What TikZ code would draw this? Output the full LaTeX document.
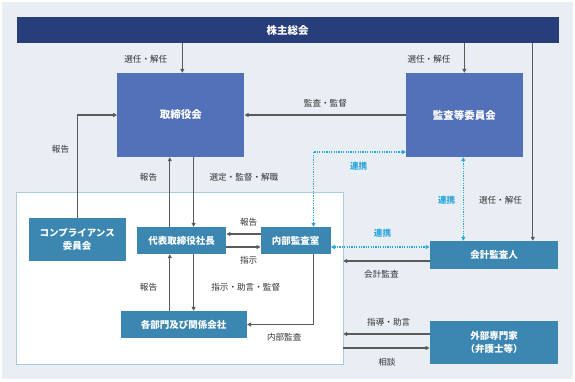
\documentclass[tikz,border=0pt]{standalone}
\usepackage{fontspec}
\setmainfont{Noto Sans CJK JP}
\usetikzlibrary{arrows.meta}
\definecolor{bgc}{HTML}{E8EEF3}
\definecolor{navy}{HTML}{283E7B}
\definecolor{boardc}{HTML}{5271B8}
\definecolor{steel}{HTML}{3B87B1}
\definecolor{linec}{HTML}{5A5A5A}
\definecolor{linkc}{HTML}{2BA6DE}
\definecolor{wborder}{HTML}{A9CBDD}
\definecolor{txtc}{HTML}{333333}
\begin{document}
\begin{tikzpicture}[x=1pt,y=-1pt,
  boxbase/.style={text=white, font=\bfseries\fontsize{9.5}{12.5}\selectfont, align=center, inner sep=0pt},
  navybox/.style={boxbase, fill=navy, font=\bfseries\fontsize{10.5}{13}\selectfont},
  boardbox/.style={boxbase, fill=boardc, font=\bfseries\fontsize{10.5}{13}\selectfont},
  steelbox/.style={boxbase, fill=steel},
  conn/.style={draw=linec, line width=1.2pt, -{Triangle[length=4pt,width=4pt]}},
  linkconn/.style={draw=linkc, line width=1.2pt, dash pattern=on 1.2pt off 1.2pt, {Triangle[length=4pt,width=4pt]}-{Triangle[length=4pt,width=4pt]}},
  lbl/.style={text=txtc, font=\fontsize{8.6}{10}\selectfont, inner sep=0pt},
  linklbl/.style={text=linkc, font=\bfseries\fontsize{8.6}{10}\selectfont, inner sep=0pt}
]
\useasboundingbox (0,0) rectangle (575,381);
\fill[white] (0,0) rectangle (575,381);
\fill[bgc] (2,2) rectangle (573,379);
\node[fill=white, draw=wborder, line width=0.6pt, minimum width=326.4pt, minimum height=172pt, inner sep=0pt] (wbox) at (179.7,278) {};

\node[navybox, minimum width=542pt, minimum height=26pt] (top) at (287.5,30) {株主総会};
\node[boardbox, minimum width=127pt, minimum height=84pt] (board) at (180.8,115) {取締役会};
\node[boardbox, minimum width=116.3pt, minimum height=84pt] (audit) at (464.4,115) {監査等委員会};
\node[steelbox, minimum width=97.2pt, minimum height=43pt] (comp) at (77.2,239.5) {コンプライアンス\\委員会};
\node[steelbox, minimum width=89.5pt, minimum height=27pt] (pres) at (181.5,240.5) {代表取締役社長};
\node[steelbox, minimum width=70pt, minimum height=27pt] (naibu) at (295.7,240.5) {内部監査室};
\node[steelbox, minimum width=128.7pt, minimum height=28pt] (kaikei) at (494.1,255) {会計監査人};
\node[steelbox, minimum width=126.2pt, minimum height=27pt] (dept) at (183.7,324.5) {各部門及び関係会社};
\node[steelbox, minimum width=128.7pt, minimum height=43pt] (gaibu) at (494.1,342.5) {外部専門家\\（弁護士等）};

\coordinate (xR) at (532.8,0);
\coordinate (xT) at (182.3,0);
\coordinate (xU) at (169.8,0);
\coordinate (xD) at (193.6,0);
\coordinate (xN) at (313.5,0);
\coordinate (xV) at (463.3,0);
\coordinate (yA) at (0,234);
\coordinate (yB) at (0,247);
\coordinate (yL) at (0,152);
\coordinate (yK) at (0,261);
\coordinate (yG1) at (0,334);
\coordinate (yG2) at (0,348);

\draw[conn] (top.south -| xT) -- (board.north -| xT);
\draw[conn] (top.south -| audit.north) -- (audit.north);
\draw[conn] (top.south -| xR) -- (kaikei.north -| xR);
\draw[conn] (audit.west) -- (board.east);
\draw[conn] (comp.north) |- (board.west);
\draw[conn] (pres.north -| xU) -- (board.south -| xU);
\draw[conn] (board.south -| xD) -- (pres.north -| xD);
\draw[conn] (naibu.west |- yA) -- (pres.east |- yA);
\draw[conn] (pres.east |- yB) -- (naibu.west |- yB);
\draw[conn] (dept.north -| xU) -- (pres.south -| xU);
\draw[conn] (pres.south -| xD) -- (dept.north -| xD);
\draw[conn] (naibu.south -| xN) |- (dept.east);
\draw[linkconn] (naibu.north -| xN) |- (audit.west |- yL);
\draw[linkconn] (audit.south -| xV) -- (kaikei.north -| xV);
\draw[linkconn] (naibu.east |- yB) -- (kaikei.west |- yB);
\draw[conn] (kaikei.west |- yK) -- (wbox.east |- yK);
\draw[conn] (gaibu.west |- yG1) -- (wbox.east |- yG1);
\draw[conn] (wbox.east |- yG2) -- (gaibu.west |- yG2);

\node[lbl] (l1) at (145.8,59) {選任・解任};
\node[lbl] (l2) at (429,59) {選任・解任};
\node[lbl] (l3) at (325.4,103) {監査・監督};
\node[lbl] (l4) at (60.5,149) {報告};
\node[lbl] (l5) at (148.5,177) {報告};
\node[lbl] (l6) at (243.9,177) {選定・監督・解職};
\node[lbl] (l7) at (248.6,222) {報告};
\node[lbl] (l8) at (248.6,260) {指示};
\node[lbl] (l9) at (148.5,287) {報告};
\node[lbl] (l10) at (245.7,287) {指示・助言・監督};
\node[lbl] (l11) at (284.2,337) {内部監査};
\node[lbl] (l12) at (500.5,200) {選任・解任};
\node[lbl] (l13) at (381.4,274) {会計監査};
\node[lbl] (l14) at (388.7,322) {指導・助言};
\node[lbl] (l15) at (386.9,362) {相談};
\node[linklbl] (k1) at (358.6,166) {連携};
\node[linklbl] (k2) at (446.6,200) {連携};
\node[linklbl] (k3) at (382.5,233) {連携};
\end{tikzpicture}
\end{document}
